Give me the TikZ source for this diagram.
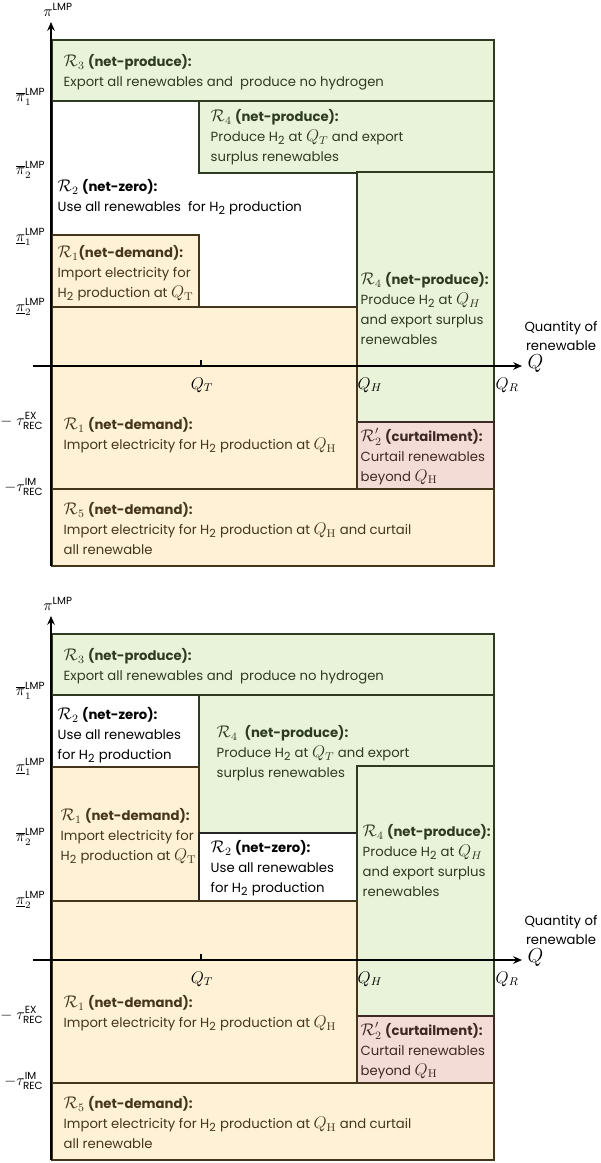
\documentclass[tikz,border=0pt]{standalone}
\usepackage{amsmath}
\usepackage[no-math]{fontspec}
\setmainfont{Poppins}
\DeclareMathSizes{9.4}{11.5}{8}{6}
\usetikzlibrary{arrows.meta}
\definecolor{cgreen}{HTML}{E9F3D9}
\definecolor{corange}{HTML}{FEF1D6}
\definecolor{cpink}{HTML}{F3DCD6}
\definecolor{cgreendk}{HTML}{2E3B20}
\definecolor{corangedk}{HTML}{45351A}
\definecolor{cpinkdk}{HTML}{3E2823}
\definecolor{cline}{HTML}{262626}
\newcommand{\Htwo}{H\textsubscript{2}}
\tikzset{
  every picture/.style={line width=1pt},
  region/.style={draw=cline, fill=#1},
  region/.default=white,
  greenbox/.style={draw=cgreendk, fill=cgreen},
  orangebox/.style={draw=corangedk, fill=corange},
  pinkbox/.style={draw=cpinkdk, fill=cpink},
  axisline/.style={-{Stealth[length=2.2mm, width=1.9mm]}, draw=black, line width=1.5pt},
  regtext/.style={font=\fontsize{9.4}{14.2}\selectfont, align=left, anchor=north west, inner sep=0pt},
  ylab/.style={anchor=east, inner sep=0pt, font=\fontsize{10.5}{12}\selectfont},
  qlab/.style={inner sep=0pt, font=\fontsize{12}{14}\selectfont},
}

\begin{document}
\begin{tikzpicture}[x=0.025cm, y=-0.025cm]
  \useasboundingbox (0,0) rectangle (600,1163);
  % top panel: its own regions
  \draw[region] (52,101) rectangle (357,307);
  \draw[greenbox] (199,101) rectangle (494,173);
  \draw[orangebox] (52,235) rectangle (199,307);
  % bottom panel: its own regions
  \draw[region] (52,694) rectangle (199,767);
  \draw[greenbox] (199,694) rectangle (494,833);
  \draw[orangebox] (52,767) rectangle (199,901);
  \draw[region] (199,833) rectangle (357,901);
  % shared by both panels
  \foreach \oy in {0,594} {
    \draw[greenbox] (52,\oy+40) rectangle (494,\oy+101);
    \draw[greenbox] (357,\oy+172) rectangle (494,\oy+422);
    \draw[pinkbox] (357,\oy+422) rectangle (494,\oy+489);
    \draw[orangebox] (52,\oy+307) rectangle (357,\oy+489);
    \draw[orangebox] (52,\oy+489) rectangle (494,\oy+566);
    \draw[axisline] (51,\oy+566) -- (51,\oy+22);
    \draw[axisline] (33,\oy+366) -- (522,\oy+366);
    \draw (201,\oy+366) -- (201,\oy+360);
    \node[ylab, anchor=center] (pi\oy) at (58,\oy+10) {$\pi^{\text{LMP}}$};
    \node[ylab] (pib\oy) at (46,\oy+97) {$\overline{\pi}_1^{\text{LMP}}$};
    \node[ylab] (tex\oy) at (44,\oy+421) {$-\ \tau^{\text{EX}}_{\text{REC}}$};
    \node[ylab] (tim\oy) at (44,\oy+487) {$-\tau^{\text{IM}}_{\text{REC}}$};
    \node[qlab] (qt\oy) at (202,\oy+385) {$Q_T$};
    \node[qlab, anchor=west] (qh\oy) at (357,\oy+385) {$Q_H$};
    \node[qlab, anchor=west] (qr\oy) at (495,\oy+385) {$Q_R$};
    \node[qlab, anchor=west, font=\fontsize{14}{16}\selectfont] (q\oy) at (527,\oy+364) {$Q$};
    \node[regtext, anchor=center, align=center] (qty\oy) at (561,\oy+336) {Quantity of\\renewable};
    \node[regtext, text=cgreendk] (r3\oy) at (63,\oy+54) {$\mathcal{R}_3$ \textbf{(net-produce):}\\Export all renewables and \ produce no hydrogen};
    \node[regtext, text=cpinkdk] (r2c\oy) at (360,\oy+428) {$\mathcal{R}'_2$ \textbf{(curtailment):}\\Curtail renewables\\beyond $Q_{\mathrm{H}}$};
    \node[regtext, text=corangedk] (r5\oy) at (63,\oy+502) {$\mathcal{R}_5$ \textbf{(net-demand):}\\Import electricity for \Htwo{} production at $Q_{\mathrm{H}}$ and curtail\\all renewable};
  }
  % top panel: labels
  \node[ylab] (tpib2) at (46,170) {$\overline{\pi}_2^{\text{LMP}}$};
  \node[ylab] (tpiu1) at (46,237) {$\underline{\pi}_1^{\text{LMP}}$};
  \node[ylab] (tpiu2) at (46,307) {$\underline{\pi}_2^{\text{LMP}}$};
  \node[regtext, text=cgreendk] (tr4a) at (210,109) {$\mathcal{R}_4$ \textbf{(net-produce):}\\Produce \Htwo{} at $Q_T$ and export\\surplus renewables};
  \node[regtext] (tr2) at (57,179) {$\mathcal{R}_2$ \textbf{(net-zero):}\\Use all renewables \ for \Htwo{} production};
  \node[regtext, text=corangedk] (tr1a) at (57,245) {$\mathcal{R}_1$\textbf{(net-demand):}\\Import electricity for\\\Htwo{} production at $Q_{\mathrm{T}}$};
  \node[regtext, text=cgreendk] (tr4b) at (360,272) {$\mathcal{R}_4$ \textbf{(net-produce):}\\Produce \Htwo{} at $Q_H$\\and export surplus\\renewables};
  \node[regtext, text=corangedk] (tr1b) at (63,417) {$\mathcal{R}_1$ \textbf{(net-demand):}\\Import electricity for \Htwo{} production at $Q_{\mathrm{H}}$};
  % bottom panel: labels
  \node[ylab] (bpiu1) at (46,767) {$\underline{\pi}_1^{\text{LMP}}$};
  \node[ylab] (bpib2) at (46,837) {$\overline{\pi}_2^{\text{LMP}}$};
  \node[ylab] (bpiu2) at (46,900) {$\underline{\pi}_2^{\text{LMP}}$};
  \node[regtext] (br2a) at (57,707) {$\mathcal{R}_2$ \textbf{(net-zero):}\\Use all renewables\\for \Htwo{} production};
  \node[regtext, text=cgreendk] (br4a) at (216,725) {$\mathcal{R}_4$\ \ \textbf{(net-produce):}\\Produce \Htwo{} at $Q_T$ and export\\surplus renewables};
  \node[regtext, text=corangedk] (br1a) at (60,808) {$\mathcal{R}_1$ \textbf{(net-demand):}\\Import electricity for\\\Htwo{} production at $Q_{\mathrm{T}}$};
  \node[regtext] (br2b) at (210,840) {$\mathcal{R}_2$ \textbf{(net-zero):}\\Use all renewables\\for \Htwo{} production};
  \node[regtext, text=cgreendk] (br4b) at (362,824) {$\mathcal{R}_4$ \textbf{(net-produce):}\\Produce \Htwo{} at $Q_H$\\and export surplus\\renewables};
  \node[regtext, text=corangedk] (br1b) at (63,995) {$\mathcal{R}_1$ \textbf{(net-demand):}\\Import electricity for \Htwo{} production at $Q_{\mathrm{H}}$};
\end{tikzpicture}
\end{document}
